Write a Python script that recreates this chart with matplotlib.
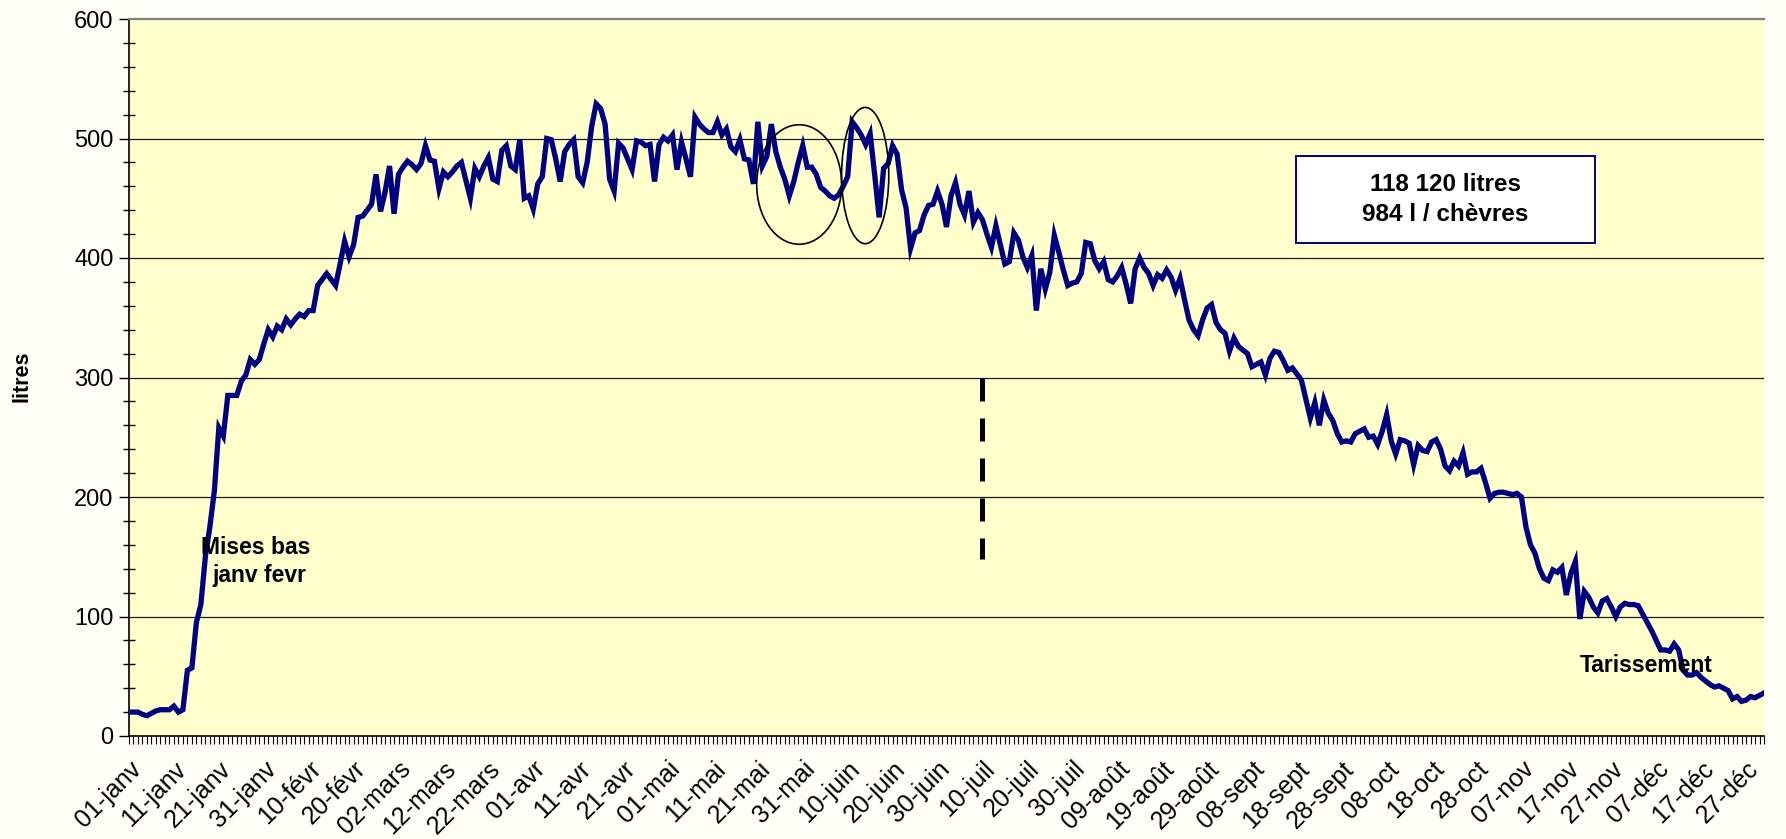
import matplotlib
matplotlib.use("Agg")
import matplotlib.pyplot as plt
from matplotlib.patches import Ellipse, Rectangle
from matplotlib.ticker import MultipleLocator, FixedLocator

plt.rcParams['font.family'] = ['Liberation Sans', 'DejaVu Sans']

# daily milk volume (litres), 01-janv .. 31-déc
litres = [
    20, 20, 20, 18, 17, 19, 21, 22, 22, 22,
    25, 20, 22, 55, 57, 95, 110, 150, 175, 205,
    258, 251, 285, 285, 285, 297, 302, 315, 311, 315,
    328, 340, 334, 343, 340, 349, 344, 349, 353, 351,
    356, 356, 377, 382, 387, 382, 377, 395, 414, 401,
    411, 434, 435, 440, 445, 470, 439, 455, 477, 437,
    470, 476, 481, 478, 474, 479, 494, 482, 481, 458,
    472, 468, 472, 477, 480, 465, 450, 475, 468, 477,
    484, 466, 464, 490, 494, 477, 474, 499, 450, 452,
    441, 462, 468, 500, 499, 483, 464, 489, 495, 499,
    468, 463, 480, 510, 529, 525, 512, 466, 456, 496,
    492, 483, 474, 498, 497, 494, 495, 464, 495, 501,
    498, 503, 474, 497, 483, 468, 518, 512, 508, 505,
    505, 514, 503, 508, 493, 489, 499, 483, 482, 462,
    514, 477, 485, 512, 489, 476, 466, 452, 464, 480,
    494, 476, 476, 470, 459, 456, 452, 450, 453, 460,
    468, 514, 509, 503, 495, 504, 470, 434, 475, 479,
    494, 487, 457, 442, 408, 421, 423, 436, 444, 445,
    456, 445, 426, 452, 463, 445, 436, 456, 430, 438,
    432, 420, 409, 427, 411, 395, 397, 421, 415, 401,
    392, 402, 356, 391, 374, 388, 419, 405, 390, 377,
    379, 380, 387, 413, 412, 398, 391, 397, 382, 380,
    385, 392, 378, 362, 391, 400, 392, 387, 377, 386,
    383, 390, 384, 373, 383, 365, 348, 340, 335, 348,
    358, 361, 346, 340, 337, 322, 333, 326, 323, 320,
    309, 311, 313, 302, 316, 322, 321, 314, 306, 308,
    303, 298, 282, 266, 279, 260, 281, 270, 264, 253,
    246, 247, 246, 253, 255, 257, 250, 251, 244, 255,
    269, 247, 236, 248, 247, 245, 227, 243, 239, 238,
    246, 248, 240, 226, 222, 230, 226, 237, 219, 221,
    221, 224, 212, 199, 203, 204, 204, 203, 202, 203,
    200, 175, 160, 153, 140, 132, 130, 139, 137, 141,
    118, 136, 146, 98, 121, 116, 108, 103, 113, 115,
    108, 100, 108, 111, 110, 110, 109, 102, 95, 88,
    80, 72, 72, 71, 77, 72, 55, 51, 51, 53,
    49, 46, 43, 41, 42, 40, 38, 31, 33, 29,
    30, 33, 32, 34, 36,
]
days = list(range(len(litres)))

tick_days = list(range(0, 361, 10))
tick_labels = [
    "01-janv", "11-janv", "21-janv", "31-janv", "10-févr", "20-févr",
    "02-mars", "12-mars", "22-mars", "01-avr", "11-avr", "21-avr",
    "01-mai", "11-mai", "21-mai", "31-mai", "10-juin", "20-juin",
    "30-juin", "10-juil", "20-juil", "30-juil", "09-août", "19-août",
    "29-août", "08-sept", "18-sept", "28-sept", "08-oct", "18-oct",
    "28-oct", "07-nov", "17-nov", "27-nov", "07-déc", "17-déc", "27-déc",
]

W, H = 1786, 839
fig = plt.figure(figsize=(W / 100, H / 100), dpi=100, facecolor="#fffff7")
L, R, T, B = 129, 1764, 19, 736
ax = fig.add_axes([L / W, 1 - B / H, (R - L) / W, (B - T) / H])
ax.set_facecolor("#ffffcc")

ax.set_xlim(0, len(litres) - 1)
ax.set_ylim(0, 600)

for v in range(100, 600, 100):
    ax.axhline(v, color="#1a1a1a", lw=0.9, zorder=1)

ax.plot(days, litres, color="#000080", lw=3.8, solid_joinstyle="miter", zorder=3)

# spines
ax.spines["top"].set_color("#808080")
ax.spines["top"].set_linewidth(1.6)
ax.spines["right"].set_visible(False)
ax.spines["left"].set_color("black")
ax.spines["left"].set_linewidth(1.2)
ax.spines["bottom"].set_color("black")
ax.spines["bottom"].set_linewidth(1.2)

# y ticks
ax.yaxis.set_major_locator(MultipleLocator(100))
ax.yaxis.set_minor_locator(MultipleLocator(20))
ax.tick_params(axis="y", which="major", direction="out", length=7, width=1, labelsize=17, pad=4)
ax.tick_params(axis="y", which="minor", direction="inout", length=9, width=1)

# x ticks
ax.xaxis.set_major_locator(FixedLocator(tick_days))
ax.xaxis.set_minor_locator(MultipleLocator(1))
ax.set_xticklabels(tick_labels, rotation=45, ha="right", rotation_mode="anchor")
ax.tick_params(axis="x", which="both", direction="out", length=6, width=0.8, labelsize=18, pad=9)

fig.text(22 / W, 1 - 376 / H, "litres", rotation=90, fontsize=15.5, fontweight="bold",
         ha="center", va="center")

# annotations
ax.annotate("", xy=(-0.5, 145), xytext=(58.8, 145),
            arrowprops=dict(arrowstyle="<|-|>", color="black", lw=1.3,
                            mutation_scale=28, shrinkA=0, shrinkB=0), zorder=4)
ax.text(28.3, 158, "Mises bas", fontsize=16.5, fontweight="bold", ha="center", va="center", zorder=5)
ax.text(29.0, 134, "janv fevr", fontsize=16.5, fontweight="bold", ha="center", va="center", zorder=5)

ax.plot([190, 190], [300, 148], color="black", lw=3.6, dashes=(4.6, 3.4), zorder=4)

ax.add_patch(Ellipse((149.2, 461.5), 18.9, 100, fill=False, ec="black", lw=1.2, zorder=4))
ax.add_patch(Ellipse((163.9, 469), 10.5, 114, fill=False, ec="black", lw=1.2, zorder=4))

# text box
ax.add_patch(Rectangle((0.7138, 0.6876), 0.8966 - 0.7138, 0.8089 - 0.6876, transform=ax.transAxes,
                       fc="white", ec="#000080", lw=1.4, zorder=6))
ax.text((0.7138 + 0.8966) / 2, 0.748, "118 120 litres\n984 l / chèvres", transform=ax.transAxes,
        fontsize=17.5, fontweight="bold", ha="center", va="center", linespacing=1.4, zorder=7)

ax.text(337.7, 58.6, "Tarissement", fontsize=16.5, fontweight="bold", ha="center", va="center", zorder=5)

fig.savefig("out.png", dpi=100, facecolor=fig.get_facecolor())
